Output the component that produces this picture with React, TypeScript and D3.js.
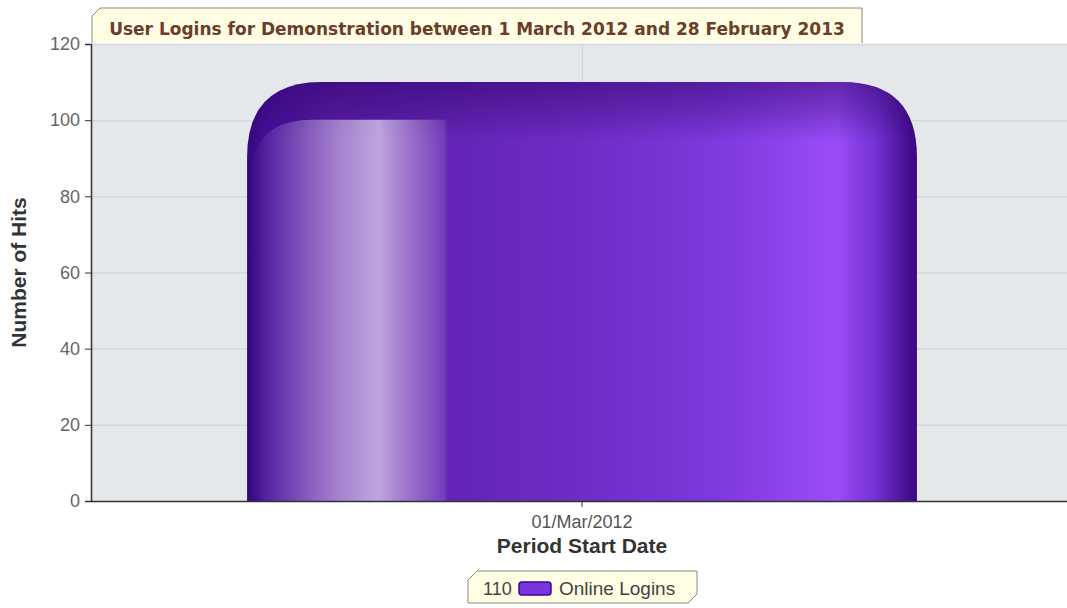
import React, { useRef, useEffect } from "react";
import * as d3 from "d3";

const categories = ["01/Mar/2012"];
const loginValues = [110];
const seriesName = "Online Logins";
const yTicks = [0, 20, 40, 60, 80, 100, 120];
const chartTitle = "User Logins for Demonstration between 1 March 2012 and 28 February 2013";
const xTitle = "Period Start Date";
const yTitle = "Number of Hits";

const App = () => {
  const svgRef = useRef<SVGSVGElement>(null);
  const width = 1067;
  const height = 608;

  useEffect(() => {
    const svg = d3.select(svgRef.current);
    svg.selectAll("*").remove();
    const margin = { top: 44, left: 91, bottom: 107 };
    const plotRight = 1073;
    const plotBottom = height - margin.bottom;
    const sans = "Liberation Sans, Arial, sans-serif";

    const x = d3
      .scaleBand()
      .domain(categories)
      .range([margin.left, plotRight])
      .paddingInner(0)
      .paddingOuter(0.233);

    const y = d3.scaleLinear().domain([0, 120]).range([plotBottom, margin.top]);

    const defs = svg.append("defs");
    const barGrad = defs
      .append("linearGradient")
      .attr("id", "barGrad")
      .attr("x1", "0")
      .attr("x2", "1")
      .attr("y1", "0")
      .attr("y2", "0");
    [
      [0, "#36077c"],
      [0.03, "#45109a"],
      [0.12, "#5a1ca8"],
      [0.5, "#6f2cc6"],
      [0.7, "#7e38dc"],
      [0.88, "#9a4cf8"],
      [0.94, "#7230d0"],
      [1, "#3a0682"],
    ].forEach(([o, c]) =>
      barGrad.append("stop").attr("offset", o as number).attr("stop-color", c as string)
    );

    const topShade = defs
      .append("linearGradient")
      .attr("id", "topShade")
      .attr("x1", "0")
      .attr("x2", "0")
      .attr("y1", "0")
      .attr("y2", "1");
    topShade.append("stop").attr("offset", 0).attr("stop-color", "#2a0060").attr("stop-opacity", 0.5);
    topShade.append("stop").attr("offset", 0.09).attr("stop-color", "#2a0060").attr("stop-opacity", 0.2);
    topShade.append("stop").attr("offset", 0.14).attr("stop-color", "#2a0060").attr("stop-opacity", 0);

    const hiGrad = defs
      .append("linearGradient")
      .attr("id", "hiGrad")
      .attr("x1", "0")
      .attr("x2", "1")
      .attr("y1", "0")
      .attr("y2", "0");
    [
      [0, 0.0],
      [0.2, 0.2],
      [0.45, 0.45],
      [0.65, 0.6],
      [0.78, 0.4],
      [0.98, 0.12],
      [1, 0],
    ].forEach(([o, a]) =>
      hiGrad.append("stop").attr("offset", o).attr("stop-color", "#ffffff").attr("stop-opacity", a)
    );

    // plot background
    svg
      .append("rect")
      .attr("x", margin.left)
      .attr("y", margin.top)
      .attr("width", plotRight - margin.left)
      .attr("height", plotBottom - margin.top)
      .attr("fill", "#e5e8eb");

    // grid
    svg
      .append("g")
      .selectAll("line")
      .data(yTicks.slice(1))
      .join("line")
      .attr("x1", margin.left)
      .attr("x2", plotRight)
      .attr("y1", (d) => y(d) + 0.5)
      .attr("y2", (d) => y(d) + 0.5)
      .attr("stroke", "#d3d6da")
      .attr("stroke-width", 1.5);
    svg
      .append("g")
      .selectAll("line")
      .data(categories)
      .join("line")
      .attr("x1", (d) => x(d)! + x.bandwidth() / 2 + 0.5)
      .attr("x2", (d) => x(d)! + x.bandwidth() / 2 + 0.5)
      .attr("y1", margin.top)
      .attr("y2", plotBottom)
      .attr("stroke", "#d3d6da");

    // bars
    const bw = x.bandwidth();
    const barGroup = svg.append("g");
    categories.forEach((c, i) => {
      const x0 = x(c)!;
      const x1 = x0 + bw;
      const y0 = y(loginValues[i]);
      const r = 75;
      const path = `M${x0},${plotBottom} L${x0},${y0 + r} Q${x0},${y0} ${x0 + r},${y0} L${x1 - r},${y0} Q${x1},${y0} ${x1},${y0 + r} L${x1},${plotBottom} Z`;
      barGroup.append("path").attr("d", path).attr("fill", "url(#barGrad)");
      barGroup.append("path").attr("d", path).attr("fill", "url(#topShade)");
      // glossy highlight
      const hx0 = x0 + 3;
      const hx1 = x0 + bw * 0.3;
      const hy = y(loginValues[i] * 0.91);
      const hr = 62;
      const hpath = `M${hx0},${plotBottom} L${hx0},${hy + hr} Q${hx0},${hy} ${hx0 + hr},${hy} L${hx1},${hy} L${hx1},${plotBottom} Z`;
      barGroup.append("path").attr("d", hpath).attr("fill", "url(#hiGrad)");
    });

    // axes
    const yAxis = svg
      .append("g")
      .attr("transform", `translate(${margin.left},0)`)
      .call(d3.axisLeft(y).tickValues(yTicks).tickSize(6).tickPadding(5));
    yAxis.select(".domain").attr("stroke", "#333").attr("stroke-width", 1.5);
    yAxis.selectAll(".tick line").attr("stroke", "#333");
    yAxis
      .selectAll("text")
      .attr("fill", "#666")
      .attr("font-family", sans)
      .attr("font-size", 18);

    const xAxis = svg
      .append("g")
      .attr("transform", `translate(0,${plotBottom})`)
      .call(d3.axisBottom(x).tickSize(6).tickSizeOuter(0).tickPadding(8));
    xAxis.select(".domain").attr("stroke", "#333").attr("stroke-width", 1.5);
    xAxis.selectAll(".tick line").attr("stroke", "#333");
    xAxis
      .selectAll("text")
      .attr("fill", "#555")
      .attr("font-family", sans)
      .attr("font-size", 18);

    svg
      .append("text")
      .attr("x", x(categories[0])! + bw / 2)
      .attr("y", 553)
      .attr("text-anchor", "middle")
      .attr("font-family", sans)
      .attr("font-weight", "bold")
      .attr("font-size", 21)
      .attr("fill", "#333")
      .text(xTitle);

    svg
      .append("text")
      .attr("transform", `translate(26,${(margin.top + plotBottom) / 2}) rotate(-90)`)
      .attr("text-anchor", "middle")
      .attr("font-family", sans)
      .attr("font-weight", "bold")
      .attr("font-size", 21)
      .attr("fill", "#333")
      .text(yTitle);

    // title box
    const tx0 = 92,
      tx1 = 862,
      ty0 = 8,
      ty1 = 43,
      ch = 8;
    svg
      .append("path")
      .attr("d", `M${tx0},${ty1} L${tx0},${ty0 + ch} L${tx0 + ch},${ty0} L${tx1},${ty0} L${tx1},${ty1}`)
      .attr("fill", "#fffde3")
      .attr("stroke", "#8a8a80")
      .attr("stroke-width", 1);
    svg
      .append("text")
      .attr("x", (tx0 + tx1) / 2)
      .attr("y", 35)
      .attr("text-anchor", "middle")
      .attr("font-family", "DejaVu Sans, Verdana, sans-serif")
      .attr("font-weight", "bold")
      .attr("font-size", 17)
      .attr("fill", "#6a3e2a")
      .text(chartTitle);

    // legend
    const lx0 = 468,
      lx1 = 697,
      ly0 = 571,
      ly1 = 603,
      lc = 9;
    svg
      .append("path")
      .attr(
        "d",
        `M${lx0},${ly1} L${lx0},${ly0 + lc} L${lx0 + lc},${ly0} L${lx1},${ly0} L${lx1},${ly1 - lc} L${lx1 - lc},${ly1} Z`
      )
      .attr("fill", "#fffde3")
      .attr("stroke", "#8a8a80");
    svg
      .append("text")
      .attr("x", 483)
      .attr("y", 595)
      .attr("font-family", sans)
      .attr("font-size", 18)
      .attr("fill", "#444")
      .text(String(loginValues[0]));
    svg
      .append("rect")
      .attr("x", 519)
      .attr("y", 582)
      .attr("width", 32)
      .attr("height", 13)
      .attr("rx", 3)
      .attr("fill", "#7a35dc")
      .attr("stroke", "#3a0a8a")
      .attr("stroke-width", 1.5);
    svg
      .append("text")
      .attr("x", 559)
      .attr("y", 595)
      .attr("font-family", sans)
      .attr("font-size", 19)
      .attr("fill", "#444")
      .text(seriesName);
  }, []);

  return (
    <svg
      ref={svgRef}
      width={width}
      height={height}
      style={{ position: "absolute", left: 0, top: 0, background: "#fff" }}
    ></svg>
  );
};

export default App;
